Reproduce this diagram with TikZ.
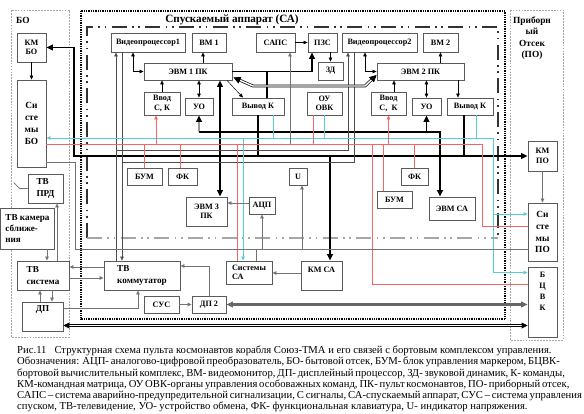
\documentclass[tikz,border=0pt]{standalone}
\usepackage{fontspec}
\setmainfont{Liberation Serif}
\usetikzlibrary{arrows.meta,calc}
\definecolor{sigcyan}{HTML}{55D0D0}
\definecolor{sigred}{HTML}{F26666}
\definecolor{boxline}{HTML}{5A5A5A}
\tikzset{
  box/.style={draw=boxline,line width=0.75pt,fill=white,align=center,inner sep=1pt,
    font=\bfseries\fontsize{7}{8}\selectfont},
  bigtxt/.style={font=\bfseries\fontsize{7.8}{9.6}\selectfont},
  sz/.style 2 args={minimum width=#1*0.3mm,minimum height=#2*0.3mm},
  arr/.style={-{Triangle[length=3.4pt,width=3pt]}},
  darr/.style={{Triangle[length=3.4pt,width=3pt]}-{Triangle[length=3.4pt,width=3pt]}},
  bigarr/.style={-{Triangle[length=5.5pt,width=5pt]}},
  bigdarr/.style={{Triangle[length=5.5pt,width=5pt]}-{Triangle[length=5.5pt,width=5pt]}},
  bus/.style={line width=1.7pt},
  gline/.style={draw=black!55,line width=0.6pt},
  vid/.style={draw=black!70,line width=0.5pt},
  cyanl/.style={draw=sigcyan,line width=0.6pt},
  redl/.style={draw=sigred,line width=0.6pt},
  lbl/.style={font=\bfseries\fontsize{8}{9.8}\selectfont,align=center,inner sep=0pt},
}

\begin{document}
\begin{tikzpicture}[x=0.3mm,y=-0.3mm]
  \useasboundingbox (0,0) rectangle (584,414);
  % compartments
  \draw[gray!70,line width=0.5pt,dash pattern=on 1.5pt off 1pt] (11,10) rectangle (69,337);
  \draw[gray!70,line width=0.5pt,dash pattern=on 1.5pt off 1pt] (510,10) rectangle (563,340);
  \draw[black,line width=0.9pt,dash pattern=on 0.6pt off 0.9pt] (81,11) rectangle (505,319);
  \draw[black!80,line width=1.6pt,dash pattern=on 4.5mm off 1.6mm on 0.5mm off 1.4mm on 0.5mm off 1.6mm]
    (87,238) -- (87,27) -- (498,27) -- (498,238);
  \draw[black!35,line width=1.6pt,dash pattern=on 4.5mm off 1.6mm on 0.5mm off 1.4mm on 0.5mm off 1.6mm]
    (87,238) -- (498,238);
  \node[lbl,anchor=west] (bolbl) at (16,20) {БО};
  \node[lbl,font=\bfseries\fontsize{9.5}{11}\selectfont] (salbl) at (232,20) {Спускаемый аппарат (СА)};
  \node[lbl] (polbl) at (532,38) {Приборн\\ый\\Отсек\\(ПО)};

  % blocks
  \node[box,sz={29}{29}] (kmbo) at (31.5,47.5) {КМ\\БО};
  \node[box,font=\bfseries\fontsize{8}{10.2}\selectfont,sz={29}{87}] (sisbo) at (31.5,123.5) {Си\\сте\\мы\\БО};
  \node[box,sz={74}{19}] (vp1) at (148,42.5) {Видеопроцессор1};
  \node[box,sz={34}{19}] (vm1) at (209,42.5) {ВМ 1};
  \node[box,sz={39}{19}] (saps) at (275.5,42.5) {САПС};
  \node[box,sz={29}{19}] (pzs) at (322.5,42.5) {ПЗС};
  \node[box,sz={25}{18}] (zd) at (330.5,71) {ЗД};
  \node[box,sz={75}{19}] (vp2) at (379.5,42.5) {Видеопроцессор2};
  \node[box,sz={35}{19}] (vm2) at (440.5,42.5) {ВМ 2};
  \node[box,sz={88}{17}] (evm1) at (188,71.5) {ЭВМ 1 ПК};
  \node[box,sz={87}{17}] (evm2) at (420.5,71.5) {ЭВМ 2 ПК};
  \node[box,sz={36}{23}] (vvod1) at (162,103.5) {Ввод\\С, К};
  \node[box,sz={28}{17}] (uo1) at (199,106.5) {УО};
  \node[box,sz={52}{17}] (vyv1) at (258,106.5) {Вывод К};
  \node[box,sz={35}{23}] (ouovk) at (324.5,103.5) {ОУ\\ОВК};
  \node[box,sz={35}{23}] (vvod2) at (388.5,103.5) {Ввод\\С,~~К};
  \node[box,sz={29}{17}] (uo2) at (426.5,106.5) {УО};
  \node[box,sz={46}{17}] (vyv2) at (470,106.5) {Вывод К};
  \node[box,sz={29}{30}] (kmpo) at (542.5,156) {КМ\\ПО};
  \node[box,font=\bfseries\fontsize{8}{10.2}\selectfont,sz={29}{58}] (sispo) at (542.5,232) {Си\\сте\\мы\\ПО};
  \node[box,font=\bfseries\fontsize{7}{9.4}\selectfont,text depth=6.5mm,sz={29}{70}] (bcvk) at (542.5,302) {Б\\Ц\\В\\К};
  \node[box,sz={35}{17}] (bum1) at (144.5,176.5) {БУМ};
  \node[box,sz={29}{17}] (fk1) at (182.5,176.5) {ФК};
  \node[box,sz={41}{29}] (evm3) at (206.5,211.5) {ЭВМ 3\\ПК};
  \node[box,sz={26}{17}] (acp) at (262,205.5) {АЦП};
  \node[box,sz={18}{17}] (ubox) at (298,176.5) {U};
  \node[box,sz={27}{17}] (fk2) at (414.5,176.5) {ФК};
  \node[box,sz={35}{17}] (bum2) at (394.5,199.5) {БУМ};
  \node[box,sz={46}{23}] (evmca) at (452,208.5) {ЭВМ СА};
  \node[box,align=left,sz={46}{23}] (sisca) at (249,272.5) {Системы\\СА};
  \node[box,text depth=3.2mm,sz={41}{29}] (kmca) at (321.5,275.5) {КМ СА};
  \node[box,bigtxt,align=left,sz={35}{29}] (tvprd) at (45.5,188.5) {ТВ\\ПРД};
  \node[box,bigtxt,align=left,sz={54}{41}] (tvcam) at (27.5,228.5) {ТВ камера\\сближе-\\ния};
  \node[box,bigtxt,align=left,sz={52}{29}] (tvsys) at (43,275.5) {ТВ\\система};
  \node[box,bigtxt,text depth=4.5mm,sz={41}{29}] (dp) at (42.5,316.5) {ДП};
  \node[box,bigtxt,align=left,sz={76}{29}] (tvkom) at (142,275.5) {ТВ\\коммутатор};
  \node[box,sz={35}{17}] (sus) at (161.5,304.5) {СУС};
  \node[box,sz={34}{17}] (dp2) at (209,304.5) {ДП 2};

  % bus points
  \coordinate (kmbend) at (74,156);
  \coordinate (uobus) at (199,132);
  \coordinate (vidA) at (116,150);
  \coordinate (vidB) at (122,162);
  \coordinate (lnkA) at (253,86);
  \coordinate (lnkB) at (365,86);
  \coordinate (cyR) at (493,138);
  \coordinate (rdR) at (482,144);
  \coordinate (pwA) at (75,162);
  \coordinate (pwB) at (75,249);

  % command matrix bus
  \draw[bus,bigdarr] (kmbo.east) -| (kmbend) -- (kmpo.west);
  \draw[bus] (vyv1.south) -- (vyv1.south |- kmbend);
  \draw[bus] (464,0 |- vyv2.south) -- (464,0 |- kmbend);
  \draw[bus,bigarr] (330,0 |- kmbend) -- (330,0 |- kmca.north);
  \draw[bus,bigdarr] (220,0 |- evm1.south) -- (220,0 |- evm3.north);
  \draw[line width=2.2pt,black!40,{Triangle[length=5.5pt,width=5pt,black]}-] (uo1.south) -- (uobus);
  \draw[line width=1.2pt,bigarr] (uobus) -| (440,0 |- evmca.north);
  \draw[line width=1.2pt,bigarr] (uo2.south |- uobus) -- (uo2.south);

  % video
  \draw[vid,{Triangle[length=3.4pt,width=3pt]}-] (vp1.south -| vidA) -- (tvkom.north -| vidA);
  \draw[vid,arr] (vp1.south -| vidB) -- (tvkom.north -| vidB);
  \draw[vid,{Triangle[length=3.4pt,width=3pt]}-] (348,0 |- vp2.south) |- (vidA);
  \draw[vid] (354,0 |- vp2.south) |- (vidB);
  \draw[darr] (133,0 |- vp1.south) |- (evm1.west);
  \draw[darr] (365,0 |- vp2.south) |- (evm2.west);

  % ЭВМ 1 ПК
  \draw[arr] (203,0 |- evm1.north) -- (203,0 |- vm1.south);
  \draw[arr] (vvod1.north) -- (vvod1.north |- evm1.south);
  \draw[darr] (uo1.north) -- (uo1.north |- evm1.south);
  \draw[arr] (227,0 |- evm1.south) -- (243,0 |- vyv1.north);
  \draw[bus,bigarr] (evm1.east) -| (312,0 |- pzs.south);
  \draw[bus] (267,0 |- evm1.east) -- (267,0 |- vyv1.north);
  \draw[arr] (saps) -- (pzs);
  \draw[arr] (zd.north |- pzs.south) -- (zd.north);
  \draw[line width=0.6pt,double=white,double distance=1.2pt,
    {Triangle[length=6pt,width=6pt]}-{Triangle[length=6pt,width=6pt]}]
    ($(evm1.south east)+(1,-3)$) -- (lnkA) -- (lnkB) -- ($(evm2.west)+(0,3.5)$);

  % ЭВМ 2 ПК
  \draw[arr] (vm2.south |- evm2.north) -- (vm2.south);
  \draw[arr] (394,0 |- vvod2.north) -- (394,0 |- evm2.south);
  \draw[darr] (uo2.north) -- (uo2.north |- evm2.south);
  \draw[arr] (458,0 |- evm2.south) -- (458,0 |- vyv2.north);

  % signals (cyan)
  \draw[cyanl,darr] (sisbo.east |- cyR) -- (cyR) |- ($(bcvk.north west)+(0,6)$);
  \draw[cyanl,arr] (cyR |- 0,214) -- (sispo.west |- 0,214);
  \draw[cyanl] (273,0 |- vyv1.south) -- (273,0 |- cyR);
  \draw[cyanl] (ouovk.south) -- (ouovk.south |- cyR);
  \draw[cyanl] (476,0 |- vyv2.south) -- (476,0 |- cyR);
  \draw[cyanl,arr] (243,0 |- cyR) -- (243,0 |- sisca.north);

  % commands (red)
  \draw[redl] (sisbo.east |- rdR) -- (rdR) |- (sispo.west |- 0,226);
  \draw[redl,arr] (156,0 |- rdR) -- (156,0 |- vvod1.south);
  \draw[redl,arr] (vvod2.south |- rdR) -- (vvod2.south);
  \draw[redl] (313,0 |- ouovk.south) -- (313,0 |- rdR);
  \draw[redl] (bum1.north |- rdR) -- (bum1.north);
  \draw[redl] (180,0 |- rdR) -- (180,0 |- fk1.north);
  \draw[redl] (237,0 |- rdR) -- (237,0 |- sisca.north);
  \draw[redl] (383,0 |- rdR) -- (383,0 |- bum2.north);
  \draw[redl] (fk2.north |- rdR) -- (fk2.north);
  \draw[redl] (372,0 |- rdR) |- (bcvk.west |- 0,284);
  \draw[gline,arr] (290,0 |- rdR) -- (290,0 |- saps.south);

  % power
  \draw[gline] (sisbo.east |- pwA) -- (pwA) -- (pwB) -- (sispo.west |- pwB);
  \draw[gline,arr] (acp.south |- pwB) -- (acp.south);
  \draw[gline,arr] (302,0 |- pwB) -- (302,0 |- ubox.south);
  \draw[gline] (256,0 |- pwB) -- (256,0 |- sisca.north);
  \draw[gline,arr] (acp.west |- 0,203) -- (evm3.east |- 0,203);
  \draw[gline,arr] (kmca.west |- 0,273) -- (sisca.east |- 0,273);
  \draw[arr] (kmbo) -- (sisbo);
  \draw[gline,arr] (kmpo) -- (sispo);

  % TV and descent control
  \draw[gline,arr] (47,0 |- tvcam.south) -- (47,0 |- tvsys.north);
  \draw[gline,arr] (57,0 |- tvsys.north) -- (57,0 |- tvprd.south);
  \draw[gline] (tvprd.west) -- ++(-8,0) -- ++(-6,-6);
  \draw[gline,arr] (40,0 |- dp.north) -- (40,0 |- tvsys.south);
  \draw[gline,arr] (52,0 |- tvsys.south) -- (52,0 |- dp.north);
  \draw[gline,arr] (tvkom.west |- 0,267) -- (tvsys.east |- 0,267);
  \draw[gline,arr] (tvsys.east |- 0,278) -- (tvkom.west |- 0,278);
  \draw[gline,arr] (dp.east |- 0,308) -| (138,0 |- tvkom.south);
  \draw[gline,arr] (dp2.north) |- (tvkom.east |- 0,266);
  \draw[gline,arr] (sus) -- (dp2);
  \draw[line width=2pt,black!60,bigdarr] (dp2.east) -- (dp2.east -| bcvk.west);
  \draw[line width=0.6pt,double=white,double distance=1pt,
    {Triangle[length=5pt,width=5pt]}-{Triangle[length=5pt,width=5pt]}]
    (dp.east |- 0,325.5) -- (bcvk.west |- 0,325.5);

  % caption
  \node[anchor=north west,align=left,inner sep=0pt,font=\fontsize{9.1}{9.5}\selectfont] (capt) at (17,346)
    {Рис.11\ \ \ Структурная схема пульта космонавтов корабля Союз-ТМА и его связей с бортовым комплексом управления.\\
     \makebox[160.8mm][s]{Обозначения: АЦП- аналогово-цифровой преобразователь, БО- бытовой отсек, БУМ- блок управления маркером, БЦВК-}\\
     \makebox[160.8mm][s]{бортовой вычислительный комплекс, ВМ- видеомонитор, ДП- дисплейный процессор, ЗД- звуковой динамик, К- команды,}\\
     \makebox[160.8mm][s]{КМ-командная матрица, ОУ ОВК-органы управления особоважных команд, ПК- пульт космонавтов, ПО- приборный отсек,}\\
     \makebox[160.8mm][s]{САПС – система аварийно-предупредительной сигнализации, С сигналы, СА-спускаемый аппарат, СУС – система управления}\\
     спуском, ТВ-телевидение, УО- устройство обмена, ФК- функциональная клавиатура, U- индикатор напряжения.};
\end{tikzpicture}
\end{document}
